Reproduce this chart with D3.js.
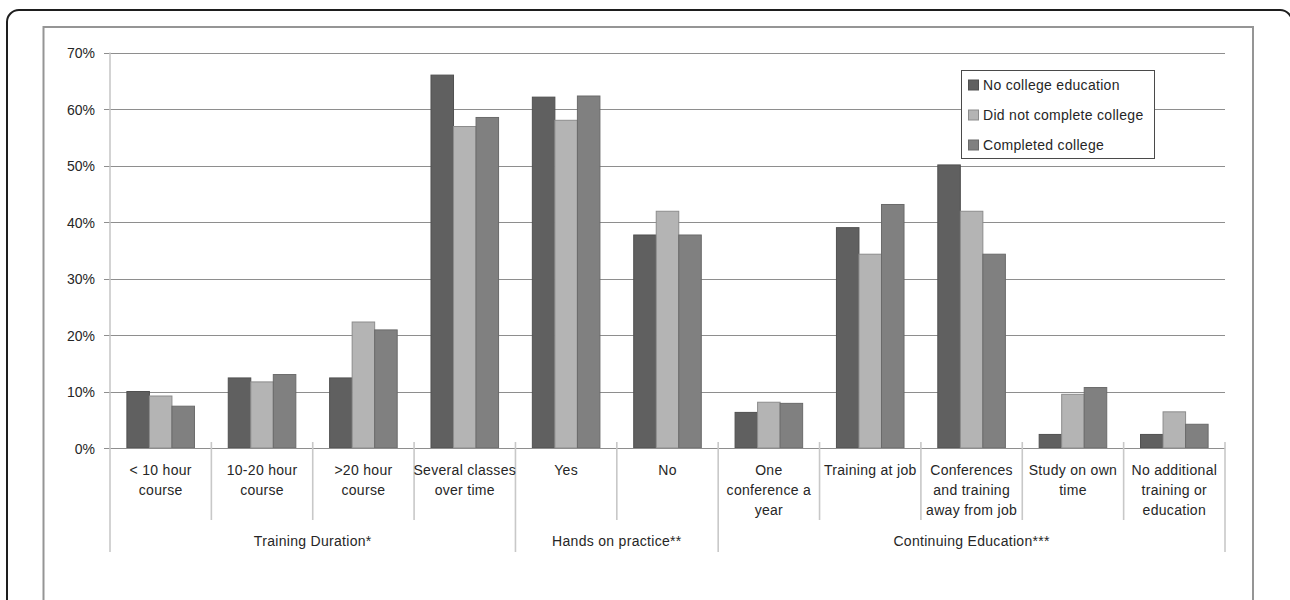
<!DOCTYPE html>
<html>
<head>
<meta charset="utf-8">
<script src="https://cdn.jsdelivr.net/npm/d3@7/dist/d3.min.js"></script>
<style>
  html, body { margin: 0; padding: 0; background: #fff; }
  svg { display: block; }
  text { font-family: "Liberation Sans", Arial, sans-serif; fill: #262626; }
</style>
</head>
<body>
<svg id="chart" width="1290" height="600"></svg>
<script>
// Category labels (line breaks mark the wrapped rows under the axis)
const categories = [
  "< 10 hour\ncourse",
  "10-20 hour\ncourse",
  ">20 hour\ncourse",
  "Several classes\nover time",
  "Yes",
  "No",
  "One\nconference a\nyear",
  "Training at job",
  "Conferences\nand training\naway from job",
  "Study on own\ntime",
  "No additional\ntraining or\neducation"
];

// Outer grouping of the categories
const groups = [
  { name: "Training Duration*", start: 0, end: 4 },
  { name: "Hands on practice**", start: 4, end: 6 },
  { name: "Continuing Education***", start: 6, end: 11 }
];

const seriesNames = ["No college education", "Did not complete college", "Completed college"];

// Share of respondents, per category, for each education level
const noCollege        = [0.100, 0.124, 0.124, 0.660, 0.621, 0.377, 0.063, 0.390, 0.501, 0.024, 0.024];
const didNotComplete   = [0.092, 0.117, 0.223, 0.569, 0.580, 0.419, 0.081, 0.343, 0.419, 0.095, 0.064];
const completedCollege = [0.074, 0.130, 0.209, 0.585, 0.623, 0.377, 0.079, 0.431, 0.343, 0.107, 0.042];

const yTicks = [0, 0.1, 0.2, 0.3, 0.4, 0.5, 0.6, 0.7];

const seriesValues = [noCollege, didNotComplete, completedCollege];
const fills = ["#606060", "#b4b4b4", "#808080"];
const strokes = ["#505050", "#8c8c8c", "#6a6a6a"];

const svg = d3.select("#chart");

// Rounded outer panel and the chart area border
svg.append("rect")
  .attr("x", 7).attr("y", 10).attr("width", 1285).attr("height", 700)
  .attr("rx", 12).attr("ry", 12)
  .attr("fill", "#fff").attr("stroke", "#1e1e1e").attr("stroke-width", 2);
svg.append("rect")
  .attr("x", 43.5).attr("y", 27).attr("width", 1209.5).attr("height", 650)
  .attr("fill", "#fff").attr("stroke", "#959595").attr("stroke-width", 2);

const plotLeft = 110, plotRight = 1225, plotTop = 52.5, plotBottom = 448;

const x = d3.scaleBand().domain(d3.range(categories.length)).range([plotLeft, plotRight]).padding(0);
const xs = d3.scaleBand().domain(d3.range(seriesNames.length)).range([0, x.bandwidth()])
  .paddingInner(0).paddingOuter(0.75);
const y = d3.scaleLinear().domain([0, 0.7]).range([plotBottom, plotTop]);

// Horizontal gridlines (extend left past the axis as tick marks)
const grid = svg.append("g");
grid.selectAll("line").data(yTicks.filter(t => t > 0)).join("line")
  .attr("x1", plotLeft - 6).attr("x2", plotRight)
  .attr("y1", d => Math.round(y(d)) + 0.5).attr("y2", d => Math.round(y(d)) + 0.5)
  .attr("stroke", "#8e8e8e").attr("stroke-width", 1.2);

// Vertical value axis line
svg.append("line")
  .attr("x1", plotLeft).attr("x2", plotLeft)
  .attr("y1", plotTop).attr("y2", plotBottom)
  .attr("stroke", "#c4c4c4").attr("stroke-width", 1.5);

// Y tick labels via d3 axis
const yAxis = svg.append("g").attr("transform", `translate(${plotLeft - 6},0)`)
  .call(d3.axisLeft(y).tickValues(yTicks).tickFormat(d3.format(".0%")).tickSize(0).tickPadding(9));
yAxis.select(".domain").remove();
yAxis.selectAll("text")
  .attr("font-size", 14).attr("font-family", "Liberation Sans, Arial, sans-serif")
  .attr("fill", "#262626").attr("dy", "0.36em");

// Bars
const barG = svg.append("g");
seriesValues.forEach((vals, s) => {
  barG.append("g").selectAll("rect").data(vals).join("rect")
    .attr("x", (d, i) => x(i) + xs(s))
    .attr("width", xs.bandwidth())
    .attr("y", d => y(d))
    .attr("height", d => y(0) - y(d))
    .attr("fill", fills[s])
    .attr("stroke", strokes[s]).attr("stroke-width", 1);
});

// Category axis line at 0%
svg.append("line")
  .attr("x1", plotLeft - 6).attr("x2", plotRight)
  .attr("y1", Math.round(y(0)) + 0.5).attr("y2", Math.round(y(0)) + 0.5)
  .attr("stroke", "#8e8e8e").attr("stroke-width", 1.2);

// Category separators: short within groups, long at group boundaries
const groupEdges = new Set();
groups.forEach(g => { groupEdges.add(g.start); groupEdges.add(g.end); });
const edges = d3.range(categories.length + 1);
svg.append("g").selectAll("line").data(edges).join("line")
  .attr("x1", i => (i < categories.length ? x(i) : plotRight))
  .attr("x2", i => (i < categories.length ? x(i) : plotRight))
  .attr("y1", i => (i === 0 ? plotBottom : plotBottom - 6))
  .attr("y2", i => (groupEdges.has(i) ? 552 : 520))
  .attr("stroke", "#c8c8c8").attr("stroke-width", 1.6);

// Category labels
const catLabels = svg.append("g");
categories.forEach((c, i) => {
  const t = catLabels.append("text")
    .attr("text-anchor", "middle").attr("font-size", 14).attr("letter-spacing", 0.3);
  c.split("\n").forEach((line, k) => {
    t.append("tspan").attr("x", x(i) + x.bandwidth() / 2).attr("y", 475 + k * 20).text(line);
  });
});

// Group labels
svg.append("g").selectAll("text").data(groups).join("text")
  .attr("x", g => ((g.start === 0 ? plotLeft : x(g.start)) + (g.end < categories.length ? x(g.end) : plotRight)) / 2)
  .attr("y", 546)
  .attr("text-anchor", "middle").attr("font-size", 14).attr("letter-spacing", 0.3)
  .text(g => g.name);

// Legend
const legend = svg.append("g");
legend.append("rect")
  .attr("x", 961.5).attr("y", 70.5).attr("width", 193).attr("height", 88)
  .attr("fill", "#fff").attr("stroke", "#4a4a4a").attr("stroke-width", 1);
seriesNames.forEach((name, s) => {
  const cy = 85 + s * 30;
  legend.append("rect")
    .attr("x", 968.5).attr("y", cy - 5).attr("width", 10).attr("height", 10)
    .attr("fill", fills[s]).attr("stroke", strokes[s]).attr("stroke-width", 1);
  legend.append("text")
    .attr("x", 983).attr("y", cy).attr("dy", "0.36em")
    .attr("font-size", 14).attr("letter-spacing", 0.3)
    .text(name);
});
</script>
</body>
</html>
